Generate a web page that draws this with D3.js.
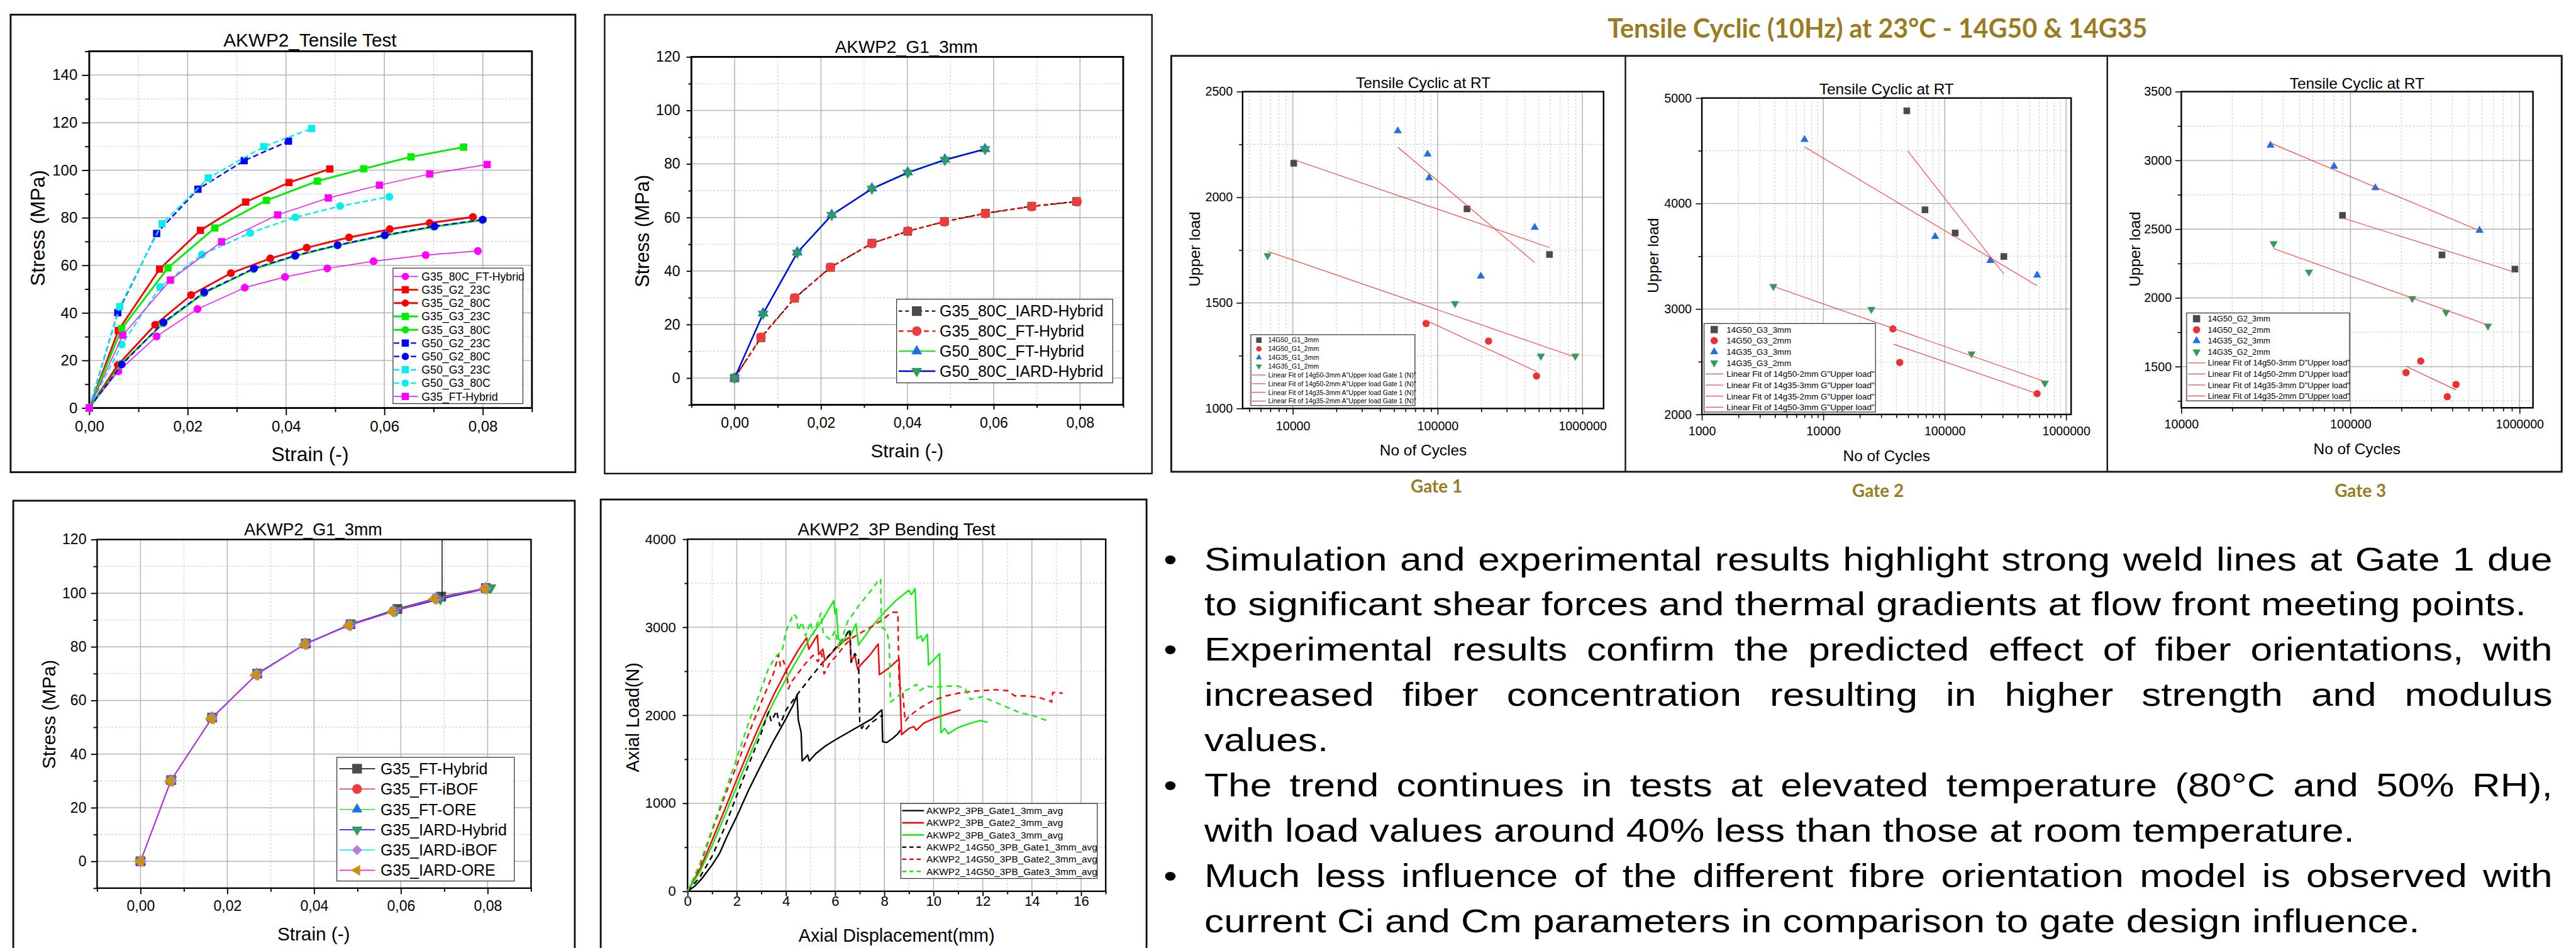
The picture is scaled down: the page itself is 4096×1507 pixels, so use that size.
<!DOCTYPE html>
<html><head><meta charset="utf-8">
<script src="https://cdn.jsdelivr.net/npm/d3@7"></script>
<style>html,body{margin:0;padding:0;background:#fff;overflow:hidden}</style>
</head><body>
<script>
// ================= DATA =================
// --- AKWP2_Tensile Test (strain, stress MPa)
const tt_G35_80C_FT_Hybrid=[[0,0],[0.0059,15.4],[0.0137,30.1],[0.0220,41.6],[0.0316,50.6],[0.0398,55.1],[0.0484,58.7],[0.0578,61.7],[0.0684,64.3],[0.0790,66.0]];
const tt_G35_G2_23C=[[0,0],[0.0059,32.6],[0.0143,58.4],[0.0226,74.7],[0.0318,86.6],[0.0406,94.8],[0.0489,100.5]];
const tt_G35_G2_80C=[[0,0],[0.0058,18.1],[0.0134,35.0],[0.0207,47.5],[0.0288,56.7],[0.0368,62.9],[0.0442,67.4],[0.0528,71.7],[0.0611,75.2],[0.0692,77.8],[0.0780,80.3]];
const tt_G35_G3_23C=[[0,0],[0.0066,33.4],[0.0160,58.9],[0.0255,75.7],[0.0360,87.3],[0.0464,95.4],[0.0558,100.6],[0.0654,105.6],[0.0761,109.7]];
const tt_G35_G3_80C=[[0,0],[0.0065,18.5],[0.0150,35.6],[0.0233,48.3],[0.0334,58.4],[0.0418,63.9],[0.0504,68.3],[0.0600,72.5],[0.0700,76.2],[0.0799,79.0]];
const tt_G50_G2_23C=[[0,0],[0.0058,40.1],[0.0137,73.4],[0.0221,92.0],[0.0315,104.0],[0.0405,112.2]];
const tt_G50_G2_80C=[[0,0],[0.0066,18.3],[0.0151,36.0],[0.0234,48.7],[0.0335,58.7],[0.0419,64.1],[0.0505,68.5],[0.0601,72.7],[0.0702,76.4],[0.0800,79.2]];
const tt_G50_G3_23C=[[0,0],[0.0062,42.6],[0.0148,77.5],[0.0242,96.7],[0.0355,109.9],[0.0452,117.5]];
const tt_G50_G3_80C=[[0,0],[0.0066,26.7],[0.0144,50.9],[0.0229,64.5],[0.0327,73.6],[0.0419,80.2],[0.0510,84.9],[0.0610,88.8]];
const tt_G35_FT_Hybrid=[[0,0],[0.0068,30.6],[0.0165,53.8],[0.0269,69.9],[0.0383,81.2],[0.0486,88.3],[0.0590,93.7],[0.0692,98.4],[0.0809,102.4]];

// --- AKWP2_G1_3mm (80C)
const g1a_G35_80C_IARD_Hybrid=[[0,0],[0.0061,15.0],[0.0139,29.8],[0.0222,41.3],[0.0318,50.4],[0.0401,54.8],[0.0486,58.5],[0.0581,61.6],[0.0688,64.2],[0.0792,66.0]];
const g1a_G35_80C_FT_Hybrid=[[0,0],[0.0061,15.2],[0.0139,29.9],[0.0222,41.4],[0.0318,50.3],[0.0401,54.9],[0.0486,58.4],[0.0581,61.5],[0.0688,64.1],[0.0793,65.9]];
const g1a_G50_80C_FT_Hybrid=[[0,0],[0.0066,24.2],[0.0145,47.0],[0.0225,61.0],[0.0318,70.9],[0.0401,76.9],[0.0487,81.7],[0.0580,85.6]];
const g1a_G50_80C_IARD_Hybrid=[[0,0],[0.0066,24.0],[0.0145,46.8],[0.0225,60.9],[0.0318,70.7],[0.0401,76.7],[0.0487,81.5],[0.0580,85.5]];

// --- AKWP2_G1_3mm (fibre orientation models)
const g1b_G35_FT_Hybrid=[[0,0],[0.0071,30.3],[0.0165,53.6],[0.0269,70.0],[0.0381,81.2],[0.0484,88.4],[0.0592,94.1],[0.0693,98.7],[0.0796,101.9]];
const g1b_G35_FT_iBOF=[[0,0],[0.0070,30.1],[0.0164,53.4],[0.0268,69.8],[0.0380,81.1],[0.0482,88.2],[0.0584,93.4],[0.0681,98.1],[0.0795,101.8]];
const g1b_G35_FT_ORE=[[0,0],[0.0070,30.1],[0.0164,53.5],[0.0268,69.8],[0.0380,81.0],[0.0482,88.2],[0.0585,93.5],[0.0683,98.2],[0.0796,101.8]];
const g1b_G35_IARD_Hybrid=[[0,0],[0.0071,30.4],[0.0166,53.7],[0.0270,70.1],[0.0382,81.3],[0.0486,88.5],[0.0590,93.6],[0.0691,97.8],[0.0807,102.0]];
const g1b_G35_IARD_iBOF=[[0,0],[0.0070,30.0],[0.0164,53.3],[0.0267,69.6],[0.0379,81.0],[0.0481,88.0],[0.0582,93.2],[0.0679,97.9],[0.0794,101.7]];
const g1b_G35_IARD_ORE=[[0,0],[0.0069,29.8],[0.0163,53.1],[0.0266,69.4],[0.0378,80.8],[0.0480,87.9],[0.0580,93.0],[0.0677,97.8],[0.0793,101.6]];
const g1b_spike=[[0.0695,98.6],[0.0695,120]];

// --- AKWP2_3P Bending Test (displacement mm, load N)
const bend_G1=[[0,0],[0.3,60],[0.6,150],[1.0,300],[1.3,430],[1.6,620],[2.0,850],[2.5,1160],[3.0,1440],[3.5,1710],[4.0,1960],[4.3,2120],[4.45,2230],[4.5,1950],[4.58,1850],[4.62,1800],[4.66,1480],[4.8,1520],[4.88,1550],[4.95,1480],[5.2,1560],[5.6,1650],[6.0,1720],[6.5,1800],[7.0,1880],[7.5,1960],[7.85,2050],[7.9,2060],[7.93,1700],[8.1,1690],[8.35,1740],[8.55,1790],[8.6,1810],[8.65,1830]];
const bend_G2=[[0,0],[0.5,250],[1.0,580],[1.5,920],[2.0,1270],[2.5,1610],[3.0,1930],[3.5,2230],[4.0,2500],[4.5,2740],[4.84,2880],[4.93,2750],[5.1,2830],[5.28,2910],[5.33,2690],[5.5,2750],[5.58,2620],[5.8,2690],[6.1,2780],[6.4,2850],[6.6,2890],[6.65,2620],[6.8,2680],[6.92,2520],[7.0,2560],[7.4,2680],[7.75,2810],[7.8,2460],[8.2,2540],[8.6,2640],[8.7,1780],[9.0,1850],[9.2,1870],[9.3,1830],[9.6,1910],[10.0,1960],[10.5,2010],[11.1,2060]];
const bend_G3=[[0,0],[0.5,220],[1.0,520],[1.5,850],[2.0,1190],[2.5,1530],[3.0,1850],[3.5,2150],[4.0,2410],[4.5,2650],[5.0,2890],[5.5,3090],[5.94,3300],[6.0,3150],[6.05,3210],[6.13,2870],[6.3,2820],[6.55,2960],[6.6,2890],[6.85,3040],[6.95,2800],[7.5,3010],[8.0,3170],[8.5,3310],[9.0,3420],[9.1,3370],[9.25,3440],[9.33,2870],[9.5,2900],[9.55,2840],[9.75,2920],[9.8,2570],[10.25,2700],[10.3,1800],[10.45,1850],[10.6,1790],[11.0,1860],[11.5,1910],[11.9,1940],[12.2,1920]];
const bend_14G50_G1=[[0,0],[0.5,160],[1.0,400],[1.5,720],[2.0,1090],[2.5,1450],[3.0,1800],[3.2,1970],[3.3,2040],[3.4,1930],[3.55,2010],[3.62,2050],[3.7,1940],[3.75,1880],[4.0,2060],[4.5,2250],[5.0,2430],[5.5,2600],[6.0,2760],[6.4,2890],[6.6,2980],[6.65,2600],[6.8,2700],[6.95,2650],[7.0,1930],[7.08,1850],[7.15,1880],[7.25,1840],[7.5,1920],[7.8,1980],[7.95,2000]];
const bend_14G50_G2=[[0,0],[0.5,290],[1.0,690],[1.5,1070],[2.0,1430],[2.5,1800],[3.0,2150],[3.5,2480],[3.7,2690],[3.77,2560],[3.9,2620],[4.03,2490],[4.1,2300],[4.25,2390],[4.5,2480],[4.8,2590],[5.1,2680],[5.3,2610],[5.45,2700],[5.55,2470],[5.8,2600],[6.1,2690],[6.4,2800],[6.7,2880],[7.0,2930],[7.5,3010],[8.0,3100],[8.3,3170],[8.55,3170],[8.6,2350],[8.75,2250],[8.85,1930],[9.0,1990],[9.5,2090],[10.0,2170],[10.5,2220],[11.0,2250],[11.5,2270],[12.0,2280],[12.5,2290],[13.0,2280],[13.3,2220],[13.8,2220],[14.3,2200],[14.75,2160],[14.8,2150],[14.85,2260],[15.25,2250]];
const bend_14G50_G3=[[0,0],[0.5,310],[1.0,710],[1.5,1110],[2.0,1510],[2.5,1930],[3.0,2300],[3.3,2540],[3.6,2670],[3.85,2740],[4.0,2950],[4.3,3150],[4.42,3120],[4.5,2960],[4.65,3060],[4.8,2900],[5.0,3060],[5.1,2920],[5.3,3060],[5.42,3160],[5.52,2920],[5.8,2860],[6.0,2960],[6.15,2760],[6.5,3060],[7.0,3260],[7.5,3430],[7.8,3550],[7.85,3540],[7.88,3000],[8.1,2960],[8.2,2800],[8.25,2150],[8.5,2200],[8.7,2260],[9.0,2300],[9.3,2350],[9.45,2280],[9.7,2330],[10.0,2320],[10.5,2330],[11.0,2330],[11.3,2300],[11.5,2180],[11.8,2200],[12.0,2210],[12.5,2150],[13.0,2090],[13.5,2030],[14.0,2000],[14.7,1930]];

// --- Tensile cyclic (cycles, upper load)
const c1_14G50_3mm=[[10150,2161],[159600,1945],[592500,1729]];
const c1_14G50_2mm=[[83200,1402],[224800,1319],[481900,1154]];
const c1_14G35_3mm=[[53060,2314],[85300,2204],[87400,2092],[198900,1626],[468400,1857]];
const c1_14G35_2mm=[[6693,1724],[131800,1497],[516400,1248],[893000,1248]];
const c1_fit50_3=[[10150,2178],[592500,1762]];
const c1_fit50_2=[[83200,1417],[481900,1175]];
const c1_fit35_3=[[53060,2237],[468400,1691]];
const c1_fit35_2=[[6693,1744],[893000,1243]];

const c2_14G50_3mm=[[48750,4879],[68800,3940],[122000,3720],[307100,3498]];
const c2_14G50_2mm=[[37460,2811],[42600,2493],[577200,2197]];
const c2_14G35_3mm=[[7000,4606],[83420,3686],[237500,3459],[577200,3320]];
const c2_14G35_2mm=[[3880,3214],[24890,2996],[166300,2575],[668200,2297]];
const c2_fit50_2=[[37960,2666],[577200,2197]];
const c2_fit35_3=[[7000,4537],[577200,3220]];
const c2_fit35_2=[[3880,3214],[668200,2312]];
const c2_fit50_3=[[49600,4498],[307100,3332]];

const c3_14G50_3mm=[[89700,2600],[347600,2312],[938300,2209]];
const c3_14G50_2mm=[[213000,1456],[260300,1540],[373700,1281],[421100,1370]];
const c3_14G35_3mm=[[33680,3109],[79950,2956],[140300,2800],[579600,2491]];
const c3_14G35_2mm=[[35140,2395],[56870,2188],[232000,1995],[367400,1895],[650300,1795]];
const c3_fit50_3=[[89700,2581],[938300,2186]];
const c3_fit50_2=[[213000,1502],[421100,1330]];
const c3_fit35_3=[[33680,3126],[579600,2488]];
const c3_fit35_2=[[35140,2358],[650300,1802]];

// --- tick values
const strainTicks=[0,0.02,0.04,0.06,0.08];
const strainMinor=[-0.01,0.01,0.03,0.05,0.07,0.09];
const stressTicksA=[0,20,40,60,80,100,120,140];
const stressTicks=[0,20,40,60,80,100,120];
const dispTicks=[0,2,4,6,8,10,12,14,16];
const loadTicks=[0,1000,2000,3000,4000];
const logTicks=[1000,10000,100000,1000000];

// --- texts
const heading="Tensile Cyclic (10Hz) at 23°C - 14G50 & 14G35";
const gateLabels=["Gate 1","Gate 2","Gate 3"];
const bulletLines=[
 {text:"Simulation and experimental results highlight strong weld lines at Gate 1 due",bullet:true,justify:true},
 {text:"to significant shear forces and thermal gradients at flow front meeting points.",end:4170},
 {text:"Experimental results confirm the predicted effect of fiber orientations, with",bullet:true,justify:true},
 {text:"increased fiber concentration resulting in higher strength and modulus",justify:true},
 {text:"values."},
 {text:"The trend continues in tests at elevated temperature (80°C and 50% RH),",bullet:true,justify:true},
 {text:"with load values around 40% less than those at room temperature.",end:3919},
 {text:"Much less influence of the different fibre orientation model is observed with",bullet:true,justify:true},
 {text:"current Ci and Cm parameters in comparison to gate design influence.",end:4015}
];

// ================= DRAWING =================
const W=4096,H=1507,S=0.959;
const FONT="'Liberation Sans', Arial, Helvetica, sans-serif";
const svg=d3.select('body').append('svg').attr('width',W).attr('height',H);
svg.append('rect').attr('width',W).attr('height',H).attr('fill','#fff');
const root=svg.append('g').attr('transform',`scale(${S})`);

// panel frames
const frame=(x0,y0,x1,y1,w)=>root.append('rect').attr('x',x0).attr('y',y0).attr('width',x1-x0).attr('height',y1-y0)
  .attr('fill','none').attr('stroke','#111').attr('stroke-width',w);
frame(17.6,24.3,954,782.7,3);
frame(1002.5,24.5,1910,785,2.5);
frame(22,830,953,1600,3);
frame(996,828,1901,1600,3);
frame(1942,92.6,4247.4,782,3);
[2695,3494].forEach(xv=>root.append('line').attr('x1',xv).attr('x2',xv).attr('y1',92.6).attr('y2',782).attr('stroke','#111').attr('stroke-width',2.5));

function sym(shape,s){
  let t=d3.symbolSquare,area=s*s,rot=0;
  const tri=Math.sqrt(3)/4*s*s*1.25;
  if(shape==='circle'){t=d3.symbolCircle;area=Math.PI*s*s/4;}
  else if(shape==='tri'){t=d3.symbolTriangle;area=tri;}
  else if(shape==='tridown'){t=d3.symbolTriangle;area=tri;rot=180;}
  else if(shape==='trileft'){t=d3.symbolTriangle;area=tri;rot=-90;}
  else if(shape==='diamond'){t=d3.symbolSquare;area=s*s*0.55;rot=45;}
  return {d:d3.symbol(t,area)(),rot};
}
function markers(g,pts,m){
  const s=sym(m.shape,m.size);
  g.append('g').selectAll('path').data(pts).join('path').attr('d',s.d)
   .attr('transform',p=>`translate(${p[0]},${p[1]}) rotate(${s.rot})`).attr('fill',m.color);
}
const fmtStrain=d=>d3.format('.2f')(d).replace('.',',');

function chart(c){
  const g=root.append('g');
  const x=(c.xLog?d3.scaleLog():d3.scaleLinear()).domain(c.xDomain).range([c.x0,c.x1]);
  const y=d3.scaleLinear().domain(c.yDomain).range([c.y1,c.y0]);
  // grid
  const gg=g.append('g');
  const vl=(vals,col,w,dash)=>gg.append('g').selectAll('line').data(vals).join('line')
     .attr('x1',d=>x(d)).attr('x2',d=>x(d)).attr('y1',c.y0).attr('y2',c.y1).attr('stroke',col).attr('stroke-width',w).attr('stroke-dasharray',dash);
  const hl=(vals,col,w,dash)=>gg.append('g').selectAll('line').data(vals).join('line')
     .attr('y1',d=>y(d)).attr('y2',d=>y(d)).attr('x1',c.x0).attr('x2',c.x1).attr('stroke',col).attr('stroke-width',w).attr('stroke-dasharray',dash);
  vl(c.xGridMinor,'#cccccc',1.2,'3,3'); hl(c.yGridMinor,'#cccccc',1.2,'3,3');
  vl(c.xGridMajor,'#b4b4b4',1.6,null); hl(c.yGridMajor,'#b4b4b4',1.6,null);
  // axes
  const fs=c.tickFs;
  const styleAx=a=>{a.attr('font-size',fs).attr('font-family',FONT);a.select('.domain').remove();
     a.selectAll('line').attr('stroke','#000').attr('stroke-width',c.tickW);a.selectAll('text').attr('fill','#000');};
  styleAx(g.append('g').attr('transform',`translate(0,${c.y1})`).call(d3.axisBottom(x).tickValues(c.xTicks).tickFormat(c.xFmt)
     .tickSize(c.tick).tickSizeOuter(0).tickPadding(c.xOff-0.358*fs-c.tick)));
  styleAx(g.append('g').attr('transform',`translate(0,${c.y1})`).call(d3.axisBottom(x).tickValues(c.xMinor).tickFormat(()=>'')
     .tickSize(c.tickMinor).tickSizeOuter(0)));
  styleAx(g.append('g').attr('transform',`translate(${c.x0},0)`).call(d3.axisLeft(y).tickValues(c.yTicks).tickFormat(c.yFmt||(d=>d))
     .tickSize(c.tick).tickSizeOuter(0).tickPadding(c.yGap-c.tick)));
  styleAx(g.append('g').attr('transform',`translate(${c.x0},0)`).call(d3.axisLeft(y).tickValues(c.yMinor).tickFormat(()=>'')
     .tickSize(c.tickMinor).tickSizeOuter(0)));
  g.append('rect').attr('x',c.x0).attr('y',c.y0).attr('width',c.x1-c.x0).attr('height',c.y1-c.y0)
   .attr('fill','none').attr('stroke','#000').attr('stroke-width',c.axisW);
  // series
  const line=d3.line().x(d=>x(d[0])).y(d=>y(d[1]));
  c.series.forEach(s=>{
    if(s.line) g.append('path').attr('d',line(s.data)).attr('fill','none').attr('stroke',s.line.color)
       .attr('stroke-width',s.line.w).attr('stroke-dasharray',s.line.dash||null).attr('stroke-linejoin','round');
    if(s.marker) markers(g,s.data.map(d=>[x(d[0]),y(d[1])]),s.marker);
  });
  // labels
  const txt=(t,xx,yy,f)=>g.append('text').attr('x',xx).attr('y',yy).attr('font-family',FONT).attr('font-size',f)
     .attr('text-anchor','middle').attr('fill','#000').text(t);
  txt(c.title.t,c.title.x,c.title.cy+0.358*c.title.fs,c.title.fs);
  txt(c.xlabel.t,c.xlabel.x,c.xlabel.cy+0.358*c.xlabel.fs,c.xlabel.fs);
  g.append('text').attr('transform',`translate(${c.ylabel.cx+0.358*c.ylabel.fs},${c.ylabel.y}) rotate(-90)`)
   .attr('font-family',FONT).attr('font-size',c.ylabel.fs).attr('text-anchor','middle').attr('fill','#000').text(c.ylabel.t);
  // legend
  const L=c.legend;
  const lg=g.append('g');
  lg.append('rect').attr('x',L.box[0]).attr('y',L.box[1]).attr('width',L.box[2]-L.box[0]).attr('height',L.box[3]-L.box[1])
    .attr('fill','#fff').attr('stroke','#333').attr('stroke-width',1.3);
  c.series.forEach((s,i)=>{
    const cy=L.y0+i*L.dy;
    if(s.line) lg.append('line').attr('x1',L.lx0).attr('x2',L.lx1).attr('y1',cy).attr('y2',cy).attr('stroke',s.line.color)
       .attr('stroke-width',s.line.lw||s.line.w).attr('stroke-dasharray',s.line.ldash||s.line.dash||null);
    if(s.marker) markers(lg,[[L.mx,cy]],{shape:s.marker.shape,size:L.ms||s.marker.size,color:s.marker.color});
    lg.append('text').attr('x',L.tx).attr('y',cy+0.358*L.fs).attr('font-family',FONT).attr('font-size',L.fs).attr('fill','#000').text(s.name);
  });
  return {x,y,g};
}

// colours
const RED='#ff0000',GRN='#00ee00',BLU='#0000ff',CYA='#00f0f0',MAG='#ff00ff';
const mRed='#ee3b3b',mBlue='#1f6fe5',mGreen='#2e9d5c',mGray='#4a4a4a',mPurple='#b07fe0',mGold='#c8940a';
const range=(a,b,s)=>d3.range(a,b+1e-9,s);

// ---- Chart A
chart({x0:148,x1:882,y0:85,y1:676.3,xDomain:[0,0.09],yDomain:[0,150],
  xTicks:strainTicks,xMinor:[0.01,0.03,0.05,0.07,0.09],xFmt:fmtStrain,
  yTicks:stressTicksA,yMinor:range(10,150,20),
  xGridMajor:[0.02,0.04,0.06,0.08],xGridMinor:[0.01,0.03,0.05,0.07],yGridMajor:range(20,140,20),yGridMinor:range(10,130,20),
  tick:12,tickMinor:7,tickW:2,axisW:3,tickFs:25,xOff:30.7,yGap:19.5,
  title:{t:'AKWP2_Tensile Test',x:514,cy:66,fs:31},xlabel:{t:'Strain (-)',x:514,cy:753,fs:33},ylabel:{t:'Stress (MPa)',cx:62.6,y:378,fs:33},
  legend:{box:[651.6,444.5,867,669],y0:458.2,dy:22.1,lx0:653,lx1:693,mx:672,tx:699,fs:18.5,ms:12},
  series:[
   {name:'G35_80C_FT-Hybrid',data:tt_G35_80C_FT_Hybrid,line:{color:MAG,w:1.5},marker:{shape:'circle',size:13,color:MAG}},
   {name:'G35_G2_23C',data:tt_G35_G2_23C,line:{color:RED,w:3},marker:{shape:'square',size:12,color:RED}},
   {name:'G35_G2_80C',data:tt_G35_G2_80C,line:{color:RED,w:3},marker:{shape:'circle',size:13,color:RED}},
   {name:'G35_G3_23C',data:tt_G35_G3_23C,line:{color:GRN,w:3},marker:{shape:'square',size:12,color:GRN}},
   {name:'G35_G3_80C',data:tt_G35_G3_80C,line:{color:GRN,w:3},marker:{shape:'circle',size:13,color:GRN}},
   {name:'G50_G2_23C',data:tt_G50_G2_23C,line:{color:BLU,w:2.5,dash:'9,5'},marker:{shape:'square',size:12,color:BLU}},
   {name:'G50_G2_80C',data:tt_G50_G2_80C,line:{color:BLU,w:2.5,dash:'9,5'},marker:{shape:'circle',size:13,color:BLU}},
   {name:'G50_G3_23C',data:tt_G50_G3_23C,line:{color:CYA,w:2.5,dash:'9,5'},marker:{shape:'square',size:12,color:CYA}},
   {name:'G50_G3_80C',data:tt_G50_G3_80C,line:{color:CYA,w:2.5,dash:'9,5'},marker:{shape:'circle',size:13,color:CYA}},
   {name:'G35_FT-Hybrid',data:tt_G35_FT_Hybrid,line:{color:MAG,w:1.5},marker:{shape:'square',size:12,color:MAG}}
  ]});

// ---- Chart B
chart({x0:1146.4,x1:1862.3,y0:94.3,y1:671,xDomain:[-0.01,0.09],yDomain:[-10,120],
  xTicks:strainTicks,xMinor:strainMinor,xFmt:fmtStrain,yTicks:stressTicks,yMinor:range(-10,110,20),
  xGridMajor:strainTicks,xGridMinor:[0.01,0.03,0.05,0.07],yGridMajor:range(0,100,20),yGridMinor:range(10,110,20),
  tick:8,tickMinor:5,tickW:2,axisW:3,tickFs:24,xOff:30,yGap:18.7,
  title:{t:'AKWP2_G1_3mm',x:1503,cy:77.6,fs:29},xlabel:{t:'Strain (-)',x:1504,cy:746.5,fs:31},ylabel:{t:'Stress (MPa)',cx:1065,y:383,fs:32},
  legend:{box:[1486.6,496,1845,634.6],y0:515.7,dy:33.2,lx0:1490,lx1:1551,mx:1520,tx:1557.9,fs:26,ms:16},
  series:[
   {name:'G35_80C_IARD-Hybrid',data:g1a_G35_80C_IARD_Hybrid,line:{color:'#000',w:2,dash:'6,5'},marker:{shape:'square',size:14,color:mGray}},
   {name:'G35_80C_FT-Hybrid',data:g1a_G35_80C_FT_Hybrid,line:{color:RED,w:2.5,dash:'8,6'},marker:{shape:'circle',size:16,color:mRed}},
   {name:'G50_80C_FT-Hybrid',data:g1a_G50_80C_FT_Hybrid,line:{color:GRN,w:2},marker:{shape:'tri',size:16,color:mBlue}},
   {name:'G50_80C_IARD-Hybrid',data:g1a_G50_80C_IARD_Hybrid,line:{color:BLU,w:2.5},marker:{shape:'tridown',size:16,color:mGreen}}
  ]});

// ---- Chart C
const cC=chart({x0:161,x1:880.5,y0:894.3,y1:1472.2,xDomain:[-0.01,0.09],yDomain:[-10,120],
  xTicks:strainTicks,xMinor:strainMinor,xFmt:fmtStrain,yTicks:stressTicks,yMinor:range(-10,110,20),
  xGridMajor:strainTicks,xGridMinor:[0.01,0.03,0.05,0.07],yGridMajor:range(0,100,20),yGridMinor:range(10,110,20),
  tick:10,tickMinor:6,tickW:2,axisW:2.5,tickFs:24,xOff:28.8,yGap:17.7,
  title:{t:'AKWP2_G1_3mm',x:519.3,cy:877.3,fs:28},xlabel:{t:'Strain (-)',x:520,cy:1547.4,fs:31},ylabel:{t:'Stress (MPa)',cx:80.4,y:1184,fs:31},
  legend:{box:[558.5,1255.3,852.7,1460.4],y0:1274.2,dy:33.7,lx0:562.6,lx1:622,mx:592,tx:630.8,fs:26,ms:16},
  series:[
   {name:'G35_FT-Hybrid',data:g1b_G35_FT_Hybrid,line:{color:'#000',w:1.5},marker:{shape:'square',size:16,color:mGray}},
   {name:'G35_FT-iBOF',data:g1b_G35_FT_iBOF,line:{color:'#ff3030',w:1.5},marker:{shape:'circle',size:17,color:mRed}},
   {name:'G35_FT-ORE',data:g1b_G35_FT_ORE,line:{color:GRN,w:1.5},marker:{shape:'tri',size:17,color:mBlue}},
   {name:'G35_IARD-Hybrid',data:g1b_G35_IARD_Hybrid,line:{color:BLU,w:1.5},marker:{shape:'tridown',size:17,color:mGreen}},
   {name:'G35_IARD-iBOF',data:g1b_G35_IARD_iBOF,line:{color:CYA,w:1.5},marker:{shape:'diamond',size:19,color:mPurple}},
   {name:'G35_IARD-ORE',data:g1b_G35_IARD_ORE,line:{color:MAG,w:1.5},marker:{shape:'trileft',size:17,color:mGold}}
  ]});
cC.g.append('path').attr('d',d3.line().x(d=>cC.x(d[0])).y(d=>cC.y(d[1]))(g1b_spike)).attr('stroke','#000').attr('stroke-width',1.5);

// ---- Chart D
chart({x0:1140,x1:1833.3,y0:893.8,y1:1477.4,xDomain:[0,17],yDomain:[0,4000],
  xTicks:dispTicks,xMinor:range(1,17,2),xFmt:d=>d,yTicks:loadTicks,yMinor:[500,1500,2500,3500],
  xGridMajor:range(2,16,2),xGridMinor:range(1,15,2),yGridMajor:[1000,2000,3000],yGridMinor:[500,1500,2500,3500],
  tick:8,tickMinor:5,tickW:2,axisW:2.5,tickFs:23,xOff:16.6,yGap:19.3,
  title:{t:'AKWP2_3P Bending Test',x:1486.6,cy:877.3,fs:29},xlabel:{t:'Axial Displacement(mm)',x:1486.6,cy:1550,fs:30},
  ylabel:{t:'Axial Load(N)',cx:1048.4,y:1189,fs:30},
  legend:{box:[1493.6,1331.9,1819.3,1456.2],y0:1343.7,dy:20.15,lx0:1495.7,lx1:1532,tx:1535.9,fs:16},
  series:[
   {name:'AKWP2_3PB_Gate1_3mm_avg',data:bend_G1,line:{color:'#000',w:2.5}},
   {name:'AKWP2_3PB_Gate2_3mm_avg',data:bend_G2,line:{color:RED,w:2.5}},
   {name:'AKWP2_3PB_Gate3_3mm_avg',data:bend_G3,line:{color:'#11ee11',w:2.5}},
   {name:'AKWP2_14G50_3PB_Gate1_3mm_avg',data:bend_14G50_G1,line:{color:'#000',w:2.5,dash:'9,7',ldash:'7,5'}},
   {name:'AKWP2_14G50_3PB_Gate2_3mm_avg',data:bend_14G50_G2,line:{color:RED,w:2.5,dash:'9,7',ldash:'7,5'}},
   {name:'AKWP2_14G50_3PB_Gate3_3mm_avg',data:bend_14G50_G3,line:{color:'#11ee11',w:2.5,dash:'9,7',ldash:'7,5'}}
  ]});

// ---- Cyclic charts
const minorLog=(a,b)=>{const out=[];for(let e=2;e<=6;e++)for(let m=2;m<=9;m++){const v=m*Math.pow(10,e);if(v>a&&v<b)out.push(v);}return out;};
const FIT='#ff3a3a';
function cyclic(c,sc,fits,names){
  const mk=[{shape:'square',size:11,color:mGray},{shape:'circle',size:12,color:'#ee3030'},{shape:'tri',size:12,color:mBlue},{shape:'tridown',size:12,color:mGreen}];
  const series=sc.map((d,i)=>({name:names[i],data:d,marker:mk[i]})).concat(fits.map((d,i)=>({name:names[4+i],data:d,line:{color:FIT,w:1.2}})));
  const xMinor=minorLog(c.xDomain[0],c.xDomain[1]);
  return chart(Object.assign({xLog:true,xFmt:d3.format('d'),xMinor,xGridMinor:xMinor,
    tick:10,tickMinor:6,tickW:1.6,axisW:2.5,tickFs:20.5,series},c));
}
cyclic({x0:2060.3,x1:2658.8,y0:151.9,y1:677.1,xDomain:[4500,1.4e6],yDomain:[1000,2500],
  xTicks:[1e4,1e5,1e6],xGridMajor:[1e4,1e5,1e6],yTicks:[1000,1500,2000,2500],yMinor:[1250,1750,2250],yGridMajor:[1500,2000],yGridMinor:[1250,1750,2250],
  xOff:28.6,yGap:16.3,
  title:{t:'Tensile Cyclic at RT',x:2359.8,cy:136.6,fs:25.5},xlabel:{t:'No of Cycles',x:2359.8,cy:745.4,fs:25.5},ylabel:{t:'Upper load',cx:1980.2,y:413,fs:25.5},
  legend:{box:[2074,554.8,2346,672.3],y0:563.8,dy:14.44,lx0:2075.6,lx1:2098.6,mx:2087.3,tx:2102.7,fs:11,ms:9}},
  [c1_14G50_3mm,c1_14G50_2mm,c1_14G35_3mm,c1_14G35_2mm],[c1_fit50_3,c1_fit50_2,c1_fit35_3,c1_fit35_2],
  ['14G50_G1_3mm','14G50_G1_2mm','14G35_G1_3mm','14G35_G1_2mm',
   'Linear Fit of 14g50-3mm A"Upper load Gate 1 (N)"','Linear Fit of 14g50-2mm A"Upper load Gate 1 (N)"',
   'Linear Fit of 14g35-3mm A"Upper load Gate 1 (N)"','Linear Fit of 14g35-2mm A"Upper load Gate 1 (N)"']);
cyclic({x0:2821.8,x1:3434,y0:162.5,y1:687,xDomain:[1000,1.1e6],yDomain:[2000,5000],
  xTicks:logTicks,xGridMajor:[1e4,1e5,1e6],yTicks:[2000,3000,4000,5000],yMinor:[2500,3500,4500],yGridMajor:[3000,4000],yGridMinor:[2500,3500,4500],
  xOff:27.7,yGap:16.8,
  title:{t:'Tensile Cyclic at RT',x:3128,cy:147.2,fs:25.5},xlabel:{t:'No of Cycles',x:3128,cy:755.4,fs:25.5},ylabel:{t:'Upper load',cx:2740.2,y:423.5,fs:25.5},
  legend:{box:[2825.4,536.3,3109.6,683],y0:546.3,dy:18.39,lx0:2828,lx1:2857.5,mx:2842.2,tx:2862.7,fs:14,ms:12}},
  [c2_14G50_3mm,c2_14G50_2mm,c2_14G35_3mm,c2_14G35_2mm],[c2_fit50_2,c2_fit35_3,c2_fit35_2,c2_fit50_3],
  ['14G50_G3_3mm','14G50_G3_2mm','14G35_G3_3mm','14G35_G3_2mm',
   'Linear Fit of 14g50-2mm G"Upper load"','Linear Fit of 14g35-3mm G"Upper load"',
   'Linear Fit of 14g35-2mm G"Upper load"','Linear Fit of 14g50-3mm G"Upper load"']);
cyclic({x0:3616.7,x1:4199.8,y0:151.9,y1:676,xDomain:[1e4,1.2e6],yDomain:[1200,3500],
  xTicks:[1e4,1e5,1e6],xGridMajor:[1e5,1e6],yTicks:[1500,2000,2500,3000,3500],yMinor:[1250,1750,2250,2750,3250],
  yGridMajor:[1500,2000,2500,3000],yGridMinor:[1250,1750,2250,2750,3250],
  xOff:27,yGap:16,
  title:{t:'Tensile Cyclic at RT',x:3908,cy:137.6,fs:25.5},xlabel:{t:'No of Cycles',x:3908,cy:743.8,fs:25.5},ylabel:{t:'Upper load',cx:3539.2,y:413,fs:25.5},
  legend:{box:[3625.5,518.8,3895.6,664.4],y0:528.3,dy:18.3,lx0:3628,lx1:3656.6,mx:3642,tx:3660.7,fs:13.5,ms:12}},
  [c3_14G50_3mm,c3_14G50_2mm,c3_14G35_3mm,c3_14G35_2mm],[c3_fit50_3,c3_fit50_2,c3_fit35_3,c3_fit35_2],
  ['14G50_G2_3mm','14G50_G2_2mm','14G35_G2_3mm','14G35_G2_2mm',
   'Linear Fit of 14g50-3mm D"Upper load"','Linear Fit of 14g50-2mm D"Upper load"',
   'Linear Fit of 14g35-3mm D"Upper load"','Linear Fit of 14g35-2mm D"Upper load"']);

// ---- heading and gate labels
const GOLD='#9a7b1f';
root.append('text').attr('x',3113).attr('y',46.6+0.36*44).attr('text-anchor','middle').attr('font-family',"Lato, 'Open Sans', sans-serif")
  .attr('font-weight',700).attr('font-size',44).attr('fill',GOLD).attr('textLength',895).attr('lengthAdjust','spacingAndGlyphs').text(heading);
[[2381.7,805.7],[3113.7,813.7],[3913.7,813.7]].forEach((p,i)=>root.append('text').attr('x',p[0]).attr('y',p[1]+0.36*29)
  .attr('text-anchor','middle').attr('font-family',"Lato, 'Open Sans', sans-serif").attr('font-weight',700).attr('font-size',29)
  .attr('fill',GOLD).text(gateLabels[i]));

// ---- bullet text
const bx0=1997,bRight=4232,bfs=54,by0=926,bdy=75;
const bg=root.append('g').attr('font-family',FONT).attr('font-size',bfs).attr('fill','#000');
const nodes=bulletLines.map((l,i)=>{
  const t=bg.append('text').attr('x',0).attr('y',0).text(l.text);
  return {l,t,base:by0+i*bdy+0.358*bfs,len:t.node().getComputedTextLength()};
});
let sw=0,sl=0;nodes.forEach(n=>{if(n.l.end){sw+=n.l.end-bx0;sl+=n.len;}});
const kx=sw/sl;
nodes.forEach(n=>{
  n.t.attr('transform',`translate(${bx0},${n.base}) scale(${kx},1)`);
  if(n.l.justify){const sp=(n.l.text.match(/ /g)||[]).length;n.t.style('word-spacing',((bRight-bx0)/kx-n.len)/sp+'px');}
  if(n.l.bullet) bg.append('text').attr('transform',`translate(${bx0-68},${n.base}) scale(${kx},1)`).text('•');
});
</script>
</body></html>
